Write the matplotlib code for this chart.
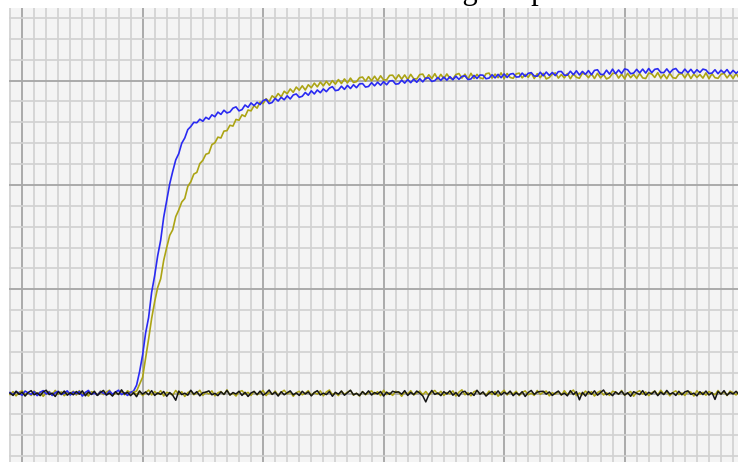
import numpy as np
import matplotlib
matplotlib.use("Agg")
import matplotlib.pyplot as plt
from matplotlib.ticker import MultipleLocator

# ---- data (x in minor grid divisions, y in minor grid divisions) ----
x_step = 0.25
blue_x0 = -1.0
yellow_x0 = -1.0
black_x0 = -1.0
yellow_base_x0 = 9.25

blue = [
    # baseline before the edge
    0.05, -0.06, 0.10, 0.01, -0.08, 0.12, 0.03, -0.04, 0.09, -0.10,
    0.06, 0.14, -0.02, 0.07, -0.09, 0.04, 0.11, -0.05, 0.02, 0.13,
    -0.07, 0.08, -0.01, 0.10, -0.12, 0.05, 0.15, -0.04, 0.03, -0.08,
    0.09, 0.02, -0.06, 0.12, -0.03, 0.07, 0.16, -0.05, 0.04, -0.09,
    0.06,
    # rising edge
    0.12, 0.40, 1.05, 1.85, 2.90, 3.65, 4.85, 5.65, 6.60, 7.35,
    8.45, 9.25, 10.05, 10.65, 11.20, 11.50, 12.00, 12.25, 12.65, 12.80,
    13.00, 12.98, 13.15, 13.05,
    # slow approach and plateau
    13.24, 13.15, 13.36, 13.27, 13.49, 13.38, 13.58, 13.45,
    13.50, 13.68, 13.74, 13.55, 13.61, 13.83, 13.72, 13.93,
    13.80, 13.96, 13.85, 14.04, 14.10, 13.90, 13.95, 14.15,
    14.02, 14.20, 14.08, 14.27, 14.12, 14.31, 14.36, 14.20,
    14.25, 14.43, 14.30, 14.51, 14.36, 14.55, 14.42, 14.60,
    14.47, 14.64, 14.71, 14.52, 14.55, 14.73, 14.58, 14.77,
    14.62, 14.80, 14.66, 14.84, 14.86, 14.69, 14.72, 14.90,
    14.75, 14.92, 14.78, 14.95, 14.80, 14.98, 15.00, 14.83,
    14.85, 15.02, 14.88, 15.05, 14.90, 15.07, 14.92, 15.09,
    14.94, 15.12, 15.13, 14.96, 15.00, 15.15, 15.01, 15.17,
    15.02, 15.19, 15.04, 15.21, 15.06, 15.20, 15.23, 15.05,
    15.08, 15.25, 15.10, 15.27, 15.26, 15.09, 15.12, 15.28,
    15.13, 15.30, 15.14, 15.32, 15.15, 15.31, 15.34, 15.17,
    15.18, 15.36, 15.20, 15.35, 15.38, 15.22, 15.21, 15.40,
    15.23, 15.41, 15.25, 15.39, 15.24, 15.43, 15.44, 15.26,
    15.26, 15.45, 15.28, 15.47, 15.27, 15.44, 15.30, 15.48,
    15.28, 15.49, 15.52, 15.30, 15.29, 15.50, 15.31, 15.55,
    15.33, 15.51, 15.34, 15.56, 15.52, 15.33, 15.36, 15.54,
    15.37, 15.55, 15.36, 15.58, 15.38, 15.54, 15.57, 15.39,
    15.38, 15.56, 15.37, 15.53, 15.58, 15.40, 15.36, 15.55,
    15.38, 15.54, 15.35, 15.52, 15.39, 15.55, 15.51, 15.34,
    15.36, 15.52, 15.33, 15.50, 15.37, 15.53, 15.32, 15.49,
    15.35, 15.47,
]

yellow = [
    -0.04, 0.09, -0.11, 0.06, 0.13, -0.05, 0.02, -0.09, 0.12, -0.02,
    0.07, -0.13, 0.04, 0.10, -0.06, 0.15, -0.03, 0.08, -0.10, 0.05,
    0.01, 0.11, -0.07, 0.14, -0.04, 0.06, -0.12, 0.09, 0.03, -0.08,
    0.12, -0.05, 0.07, 0.16, -0.09, 0.02, -0.03, 0.10, -0.06, 0.13,
    0.04,
    0.08, 0.12, 0.45, 0.78, 1.70, 2.62, 3.60, 4.40, 5.08, 5.50,
    6.38, 7.00, 7.58, 7.85, 8.48, 8.80, 9.18, 9.35, 9.93, 10.15,
    10.52, 10.60, 11.02, 11.18,
    11.47, 11.52, 11.93, 12.02, 12.29, 12.25, 12.58, 12.60,
    12.86, 12.82, 13.14, 13.10, 13.36, 13.28, 13.59, 13.55,
    13.80, 13.68, 13.97, 13.90, 14.13, 13.99, 14.27, 14.16,
    14.38, 14.22, 14.49, 14.37, 14.60, 14.44, 14.69, 14.54,
    14.75, 14.55, 14.80, 14.66, 14.88, 14.70, 14.93, 14.75,
    14.97, 14.78, 15.00, 14.83, 15.05, 14.86, 15.08, 14.89,
    15.12, 14.91, 14.95, 15.14, 15.17, 14.97, 15.19, 14.99,
    15.21, 15.00, 15.23, 15.03, 15.04, 15.25, 15.26, 15.06,
    15.28, 15.07, 15.27, 15.05, 15.30, 15.09, 15.08, 15.29,
    15.31, 15.06, 15.28, 15.10, 15.33, 15.07, 15.30, 15.09,
    15.32, 15.11, 15.08, 15.29, 15.34, 15.12, 15.31, 15.07,
    15.35, 15.10, 15.30, 15.13, 15.09, 15.33, 15.36, 15.12,
    15.31, 15.14, 15.37, 15.10, 15.34, 15.15, 15.11, 15.32,
    15.36, 15.13, 15.30, 15.16, 15.38, 15.10, 15.33, 15.14,
    15.35, 15.08, 15.15, 15.31, 15.37, 15.12, 15.29, 15.13,
    15.34, 15.09, 15.32, 15.16, 15.11, 15.36, 15.30, 15.14,
    15.33, 15.10, 15.35, 15.13, 15.29, 15.08, 15.15, 15.34,
    15.37, 15.12, 15.31, 15.09, 15.35, 15.14, 15.30, 15.11,
    15.34, 15.13, 15.10, 15.36, 15.32, 15.15, 15.38, 15.12,
    15.30, 15.09, 15.35, 15.14, 15.11, 15.31, 15.34, 15.13,
    15.36, 15.10, 15.32, 15.15, 15.29, 15.12, 15.37, 15.09,
    15.33, 15.14, 15.11, 15.30, 15.35, 15.13, 15.31, 15.10,
    15.34, 15.12,
]

yellow_base = [
    0.08, -0.05, 0.13, -0.10, 0.04, 0.17, -0.07, 0.10, -0.03, 0.14,
    -0.12, 0.06, 0.02, -0.08, 0.15, -0.04, 0.09, -0.14, 0.05, 0.12,
    -0.06, 0.03, 0.16, -0.09, 0.07, -0.02, 0.13, -0.11, 0.04, 0.10,
    -0.05, 0.18, -0.07, 0.02, -0.12, 0.08, 0.14, -0.03, 0.06, -0.09,
    0.11, -0.06, 0.03, 0.15, -0.10, 0.07, -0.04, 0.12, -0.08, 0.05,
    0.16, -0.02, 0.09, -0.13, 0.04, 0.11, -0.06, 0.02, 0.14, -0.09,
    0.06, -0.03, 0.13, -0.11, 0.08, 0.17, -0.05, 0.03, -0.10, 0.12,
    -0.04, 0.07, 0.15, -0.08, 0.02, -0.12, 0.10, -0.06, 0.05, 0.13,
    -0.03, 0.09, -0.10, 0.16, -0.05, 0.04, -0.09, 0.11, 0.06, -0.13,
    0.08, -0.02, 0.14, -0.07, 0.03, 0.12, -0.05, 0.10, -0.08, 0.06,
    0.15, -0.04, 0.11, -0.09, 0.05, -0.02, 0.13, -0.12, 0.07, 0.18,
    -0.06, 0.04, -0.11, 0.09, 0.14, -0.03, 0.06, -0.08, 0.12, -0.05,
    0.10, -0.13, 0.03, 0.16, -0.07, 0.08, -0.02, 0.11, -0.10, 0.05,
    0.13, -0.06, 0.02, -0.09, 0.15, -0.04, 0.07, 0.12, -0.11, 0.04,
    -0.03, 0.10, -0.08, 0.14, -0.05, 0.06, 0.17, -0.10, 0.03, -0.06,
    0.12, -0.02, 0.09, -0.12, 0.05, 0.13, -0.07, 0.04, -0.09, 0.11,
    0.07, -0.04, 0.15, -0.08, 0.02, 0.10, -0.13, 0.06, 0.14, -0.03,
    0.08, -0.10, 0.04, 0.12, -0.06, 0.16, -0.02, 0.09, -0.11, 0.05,
    0.13, -0.05, 0.03, -0.09, 0.11, 0.07, -0.12, 0.14, -0.04, 0.06,
    -0.08, 0.10, 0.02, -0.06, 0.15, -0.03, 0.09, -0.10, 0.12, 0.04,
    -0.07, 0.13,
]

black = [
    0.02, -0.09, 0.11, -0.04, 0.07, -0.12, 0.05, 0.14, -0.06, 0.03,
    -0.10, 0.08, 0.16, -0.05, 0.02, -0.14, 0.09, -0.03, 0.12, -0.08,
    0.04, -0.06, 0.10, -0.03, 0.13, -0.11, 0.07, -0.04, 0.11, -0.09,
    0.05, 0.15, -0.07, 0.02, -0.12, 0.09, -0.05, 0.18, -0.02, 0.06,
    -0.10, 0.04, -0.15, 0.12, -0.03, 0.08, -0.06, 0.14, -0.09, 0.03,
    -0.04, 0.10, -0.13, 0.05, -0.08, -0.32, 0.12, -0.05, 0.02, -0.08,
    0.16, -0.03, 0.09, -0.11, 0.04, 0.07, 0.13, -0.06, 0.01, -0.10,
    0.08, -0.04, 0.15, -0.07, 0.05, -0.02, 0.11, -0.09, 0.06, -0.14,
    0.03, 0.10, -0.05, 0.12, -0.08, 0.02, 0.17, -0.04, 0.07, -0.12,
    0.09, -0.06, 0.04, 0.13, -0.06, 0.03, -0.09, 0.11, -0.02, 0.08,
    -0.11, 0.05, 0.14, -0.07, 0.02, -0.05, 0.10, -0.13, 0.06, -0.03,
    0.12, -0.08, 0.04, 0.16, -0.06, 0.01, -0.10, 0.09, -0.04, 0.13,
    -0.07, 0.05, -0.02, 0.10, -0.12, 0.07, -0.04, 0.11, 0.06, 0.08,
    -0.03, 0.14, -0.09, 0.06, -0.05, 0.12, 0.02, -0.11, -0.40, -0.06,
    0.15, -0.04, 0.03, -0.10, 0.09, -0.02, 0.13, -0.08, 0.05, -0.13,
    0.07, 0.11, -0.06, 0.04, -0.09, 0.16, -0.03, 0.08, -0.12, 0.02,
    0.10, -0.05, 0.13, -0.07, 0.06, -0.02, 0.12, -0.10, 0.04, -0.06,
    0.09, -0.14, 0.05, 0.15, -0.04, 0.07, 0.10, 0.11, -0.03, 0.08,
    -0.09, 0.03, 0.12, -0.06, 0.02, -0.11, 0.14, -0.05, 0.09, -0.30,
    0.06, -0.12, 0.10, -0.04, 0.13, -0.08, 0.05, 0.17, -0.06, 0.03,
    -0.10, 0.08, -0.03, 0.11, -0.07, 0.04, -0.13, 0.09, 0.02, -0.05,
    0.14, -0.08, 0.06, -0.02, 0.12, -0.10, 0.07, -0.05, 0.15, -0.03,
    0.04, -0.09, 0.11, -0.06, 0.08, 0.13, -0.04, 0.02, -0.11, 0.09,
    -0.05, 0.12, -0.07, 0.05, -0.28, 0.10, -0.03, 0.14, -0.08, 0.06,
    -0.02, 0.11, -0.06,
]

title_text = "Rising Response"

# ---- figure ----
W, H = 738, 462
fig = plt.figure(figsize=(W / 100, H / 100), dpi=100)
fig.patch.set_facecolor("white")

ax = fig.add_axes([9 / W, 0, (W - 9) / W, (H - 8) / H])
ax.set_facecolor("#f4f4f4")


def xs_for(arr, x0):
    return x0 + x_step * np.arange(len(arr))


ax.plot(xs_for(yellow, yellow_x0), yellow, color="#aca414", lw=1.2, zorder=2.9)
ax.plot(xs_for(blue, blue_x0), blue, color="#2a2af2", lw=1.2, zorder=3)
ax.plot(xs_for(yellow_base, yellow_base_x0), yellow_base, color="#aca414",
        lw=1.1, zorder=3.1)
ax.plot(xs_for(black, black_x0), black, color="#151515", lw=1.1, zorder=3.2)

# axis scaling: x minor div = 12.05 px, major every 10; y minor div = 20.86 px, major every 5
ax.set_xlim(-1.087, 59.41)
ax.set_ylim(-3.28, 18.48)

ax.xaxis.set_major_locator(MultipleLocator(10))
ax.xaxis.set_minor_locator(MultipleLocator(1))
ax.yaxis.set_major_locator(MultipleLocator(5))
ax.yaxis.set_minor_locator(MultipleLocator(1))
ax.grid(which="minor", color="#d2d2d2", lw=1.25, zorder=1)
ax.grid(which="major", color="#a8a8a8", lw=1.35, zorder=1.5)
ax.set_axisbelow(True)
ax.tick_params(which="both", length=0, labelbottom=False, labelleft=False)
for s in ax.spines.values():
    s.set_visible(False)

fig.text(398 / W, (H + 1.5) / H, title_text, family="Liberation Serif",
         fontsize=22, ha="left", va="baseline", color="black")

fig.savefig("out.png", dpi=100, facecolor="white")
